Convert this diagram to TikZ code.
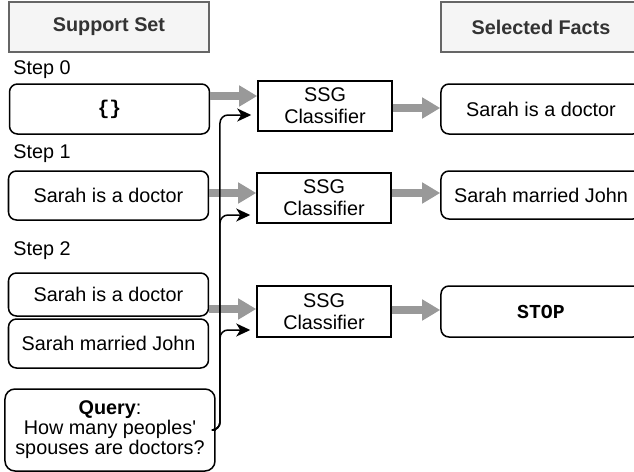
\documentclass[tikz,border=0pt]{standalone}
\usepackage{fontspec}
\setmainfont{Liberation Sans}[Ligatures=TeXOff]
\newfontfamily\codefont{Liberation Mono}
\usepackage{tikz}
\usetikzlibrary{arrows.meta}
\definecolor{hdrfill}{HTML}{F5F5F5}
\definecolor{hdrline}{HTML}{666666}
\definecolor{hdrtext}{HTML}{333333}
\definecolor{fatgray}{HTML}{999999}

\begin{document}
\begin{tikzpicture}[x=0.5pt,y=-0.5pt]
\tikzset{>={Stealth[length=7pt,width=6.5pt,inset=2pt]}}
\tikzstyle{every node}=[font=\fontsize{9.9}{11}\selectfont]
\tikzstyle{header}=[draw=hdrline, fill=hdrfill, text=hdrtext, line width=0.75pt, minimum width=100pt, minimum height=25pt, inner sep=0pt, font=\fontsize{9.9}{11}\selectfont\bfseries]
\tikzstyle{fact}=[draw, rounded corners=4pt, line width=0.75pt, minimum width=100pt, minimum height=25pt, inner sep=0pt]
\tikzstyle{clf}=[draw, line width=0.75pt, minimum width=67pt, minimum height=25pt, inner sep=0pt, align=center]
\tikzstyle{steplabel}=[anchor=west, inner sep=0pt]
\tikzstyle{fat}=[-{Triangle[length=9pt,width=10pt]}, line width=4pt, draw=fatgray]
\tikzstyle{feed}=[->, line width=0.75pt, rounded corners=4pt, shorten >=3pt]

\clip (0,0) rectangle (634,472);

% headers
\node[header](sup) at (109,27){Support Set};
\node[header](sel) at (541,27){Selected Facts};

% support sets per step
\node[steplabel](s0) at (13,70){Step 0};
\node[fact](in0) at (109.5,109){\codefont\bfseries \{\}};
\node[steplabel](s1) at (13,153.5){Step 1};
\node[fact,minimum height=24.5pt](in1) at (108.5,195.5){Sarah is a doctor};
\node[steplabel](s2) at (13,251){Step 2};
\node[fact,minimum height=21.5pt](in2a) at (108.5,294.5){Sarah is a doctor};
\node[fact,minimum height=24.5pt](in2b) at (108.5,343.5){Sarah married John};
\node[fact,rounded corners=5pt,minimum width=105pt,minimum height=41pt,align=center,font=\fontsize{9.9}{10}\selectfont](query) at (110,430){\textbf{Query}:\\How many peoples'\\spouses are doctors?};

% classifiers
\node[clf](ssg0) at (325,106){SSG\\Classifier};
\node[clf](ssg1) at (324,198){SSG\\Classifier};
\node[clf,minimum height=25.5pt](ssg2) at (324,311.5){SSG\\Classifier};

% selected facts
\node[fact](out0) at (541,109){Sarah is a doctor};
\node[fact,minimum height=24pt](out1) at (541,195){Sarah married John};
\node[fact,minimum height=25.5pt](out2) at (541,311.5){\codefont\bfseries STOP};

\draw[fat] (in0.east |- 0,96) -- (ssg0.west |- 0,96);
\draw[fat] (in1.east |- 0,193) -- (ssg1.west |- 0,193);
\draw[fat] (in2a.east |- 0,309) -- (ssg2.west |- 0,309);
\draw[fat] (ssg0.east |- 0,108) -- (out0.west |- 0,108);
\draw[fat] (ssg1.east |- 0,193) -- (out1.west |- 0,193);
\draw[fat] (ssg2.east |- 0,310) -- (out2.west |- 0,310);

\coordinate (bus) at (220,430);
\draw[feed] (query.east) -- (bus) |- (ssg0.west |- 0,115);
\draw[feed] (query.east) -- (bus) |- (ssg1.west |- 0,215);
\draw[feed] (query.east) -- (bus) |- (ssg2.west |- 0,330);
\end{tikzpicture}
\end{document}
